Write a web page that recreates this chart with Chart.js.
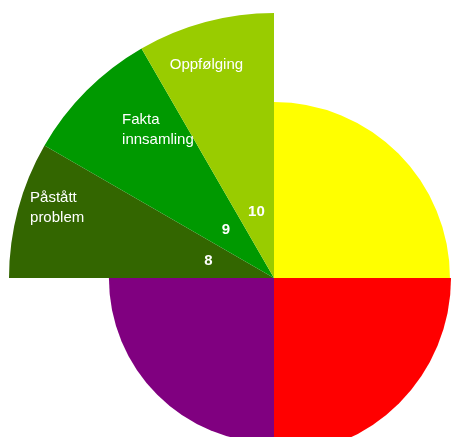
<!DOCTYPE html>
<html>
<head>
<meta charset="utf-8">
<script src="https://cdn.jsdelivr.net/npm/chart.js@4"></script>
<style>
html, body { margin: 0; padding: 0; background: #fff; overflow: hidden; width: 461px; height: 437px; }
#wrap { position: absolute; left: 9px; top: 13px; width: 530px; height: 530px; }
</style>
</head>
<body>
<div id="wrap"><canvas id="wheel" width="530" height="530"></canvas></div>
<script>
// data
var categories = ['', '', '', ['Påstått', 'problem'], ['Fakta', 'innsamling'], 'Oppfølging']
var values = [6.64, 6.68, 6.23, 10, 10, 10]
var angles = [90, 90, 90, 30, 30, 30]
var stepNumbers = [null, null, null, 8, 9, 10]
var colors = ['#ffff00', '#ff0000', '#800080', '#336600', '#009900', '#99cc00']

var fontFamily = "'Liberation Sans', Arial, sans-serif"

// where the names sit inside their slice (fraction of radius, degrees of turn)
var nameSpots = [null, null, null, [0.86, 2.9], [0.71, 6.9], [0.843, -2.6]]

var sliceText = {
    id: 'sliceText',
    afterDatasetsDraw: function (chart) {
        var ctx = chart.ctx
        var meta = chart.getDatasetMeta(0)
        ctx.save()
        ctx.fillStyle = '#ffffff'
        ctx.textBaseline = 'middle'
        meta.data.forEach(function (arc, i) {
            var p = arc.getProps(['x', 'y', 'startAngle', 'endAngle'], true)
            var mid = (p.startAngle + p.endAngle) / 2
            if (stepNumbers[i] != null) {
                ctx.font = 'bold 15px ' + fontFamily
                ctx.textAlign = 'center'
                ctx.fillText(String(stepNumbers[i]), p.x + Math.cos(mid) * 68, p.y + Math.sin(mid) * 68)
            }
            var spot = nameSpots[i]
            if (!spot) return
            var lines = [].concat(chart.data.labels[i])
            var a = mid + spot[1] * Math.PI / 180
            var r = spot[0] * chart.scales.r.drawingArea
            var cx = p.x + Math.cos(a) * r
            var cy = p.y + Math.sin(a) * r
            ctx.font = '15px ' + fontFamily
            ctx.textAlign = 'left'
            var w = Math.max.apply(null, lines.map(function (l) { return ctx.measureText(l).width }))
            lines.forEach(function (l, k) {
                ctx.fillText(l, cx - w / 2, cy + (k - (lines.length - 1) / 2) * 20)
            })
        })
        ctx.restore()
    }
}

new Chart(document.getElementById('wheel').getContext('2d'), {
    type: 'polarArea',
    data: {
        labels: categories,
        datasets: [
            {
                data: values,
                backgroundColor: colors,
                borderWidth: 0,
                angle: function (c) { return angles[c.dataIndex] }
            }
        ]
    },
    options: {
        responsive: false,
        animation: false,
        layout: { padding: 0 },
        plugins: {
            legend: { display: false },
            tooltip: { enabled: false }
        },
        scales: {
            r: { min: 0, max: 10, display: false }
        }
    },
    plugins: [sliceText]
})
</script>
</body>
</html>
